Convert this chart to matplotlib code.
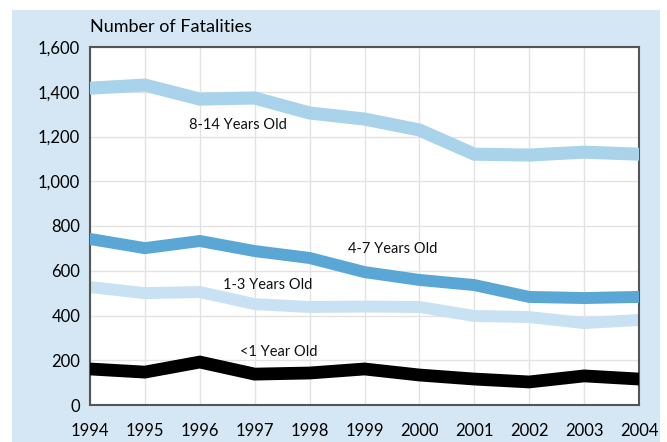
import matplotlib.pyplot as plt
from matplotlib.patches import Rectangle

# данные по годам
years = [1994, 1995, 1996, 1997, 1998, 1999, 2000, 2001, 2002, 2003, 2004]
age_8_14 = [1416, 1430, 1367, 1372, 1305, 1278, 1229, 1121, 1117, 1130, 1121]
age_4_7 = [742, 701, 733, 688, 657, 594, 559, 536, 483, 478, 483]
age_1_3 = [527, 500, 505, 451, 438, 440, 438, 398, 393, 366, 380]
age_under1 = [161, 147, 192, 138, 143, 161, 134, 116, 103, 130, 116]

y_ticks = [0, 200, 400, 600, 800, 1000, 1200, 1400, 1600]
y_labels = ['0', '200', '400', '600', '800', '1,000', '1,200', '1,400', '1,600']

plt.rcParams['font.family'] = ['Lato', 'DejaVu Sans']

fig = plt.figure(figsize=(6.67, 4.42), dpi=100)
fig.patch.set_facecolor('white')

# голубая подложка
fig.patches.append(Rectangle((12 / 667, 0), 648 / 667, 432 / 442,
                             transform=fig.transFigure, facecolor='#d5e7f4',
                             edgecolor='none', zorder=-10))

ax = fig.add_axes([90 / 667, 37 / 442, 549 / 667, 358 / 442])
ax.set_facecolor('white')

ax.plot(years, age_8_14, color='#a9d2eb', lw=9.4, solid_joinstyle='miter', zorder=3)
ax.plot(years, age_4_7, color='#5aa7d6', lw=8.6, solid_joinstyle='miter', zorder=3)
ax.plot(years, age_1_3, color='#c9e2f3', lw=8.6, solid_joinstyle='miter', zorder=2)
ax.plot(years, age_under1, color='black', lw=9.2, solid_joinstyle='miter', zorder=3)

# подписи серий
lbl = dict(fontsize=10.5, ha='center', va='center', color='#111111', zorder=4)
ax.text(1996.69, 1251, '8-14 Years Old', **lbl)
ax.text(1999.52, 697, '4-7 Years Old', **lbl)
ax.text(1997.24, 536, '1-3 Years Old', **lbl)
ax.text(1997.44, 237, '<1 Year Old', **lbl)

ax.set_xlim(1994, 2004)
ax.set_ylim(0, 1600)
ax.set_xticks(years)
ax.set_xticklabels([str(y) for y in years], fontsize=12)
ax.set_yticks(y_ticks)
ax.set_yticklabels(y_labels, fontsize=12)
ax.tick_params(length=0, pad=7)
ax.tick_params(axis='x', pad=13)
ax.grid(True, color='#e3e3e3', lw=1, zorder=1)

for s in ax.spines.values():
    s.set_color('#555555')
    s.set_linewidth(1.5)

fig.text(90 / 667, 1 - 27 / 442, 'Number of Fatalities', fontsize=13,
         ha='left', va='center')

fig.savefig('out.png', dpi=100)
